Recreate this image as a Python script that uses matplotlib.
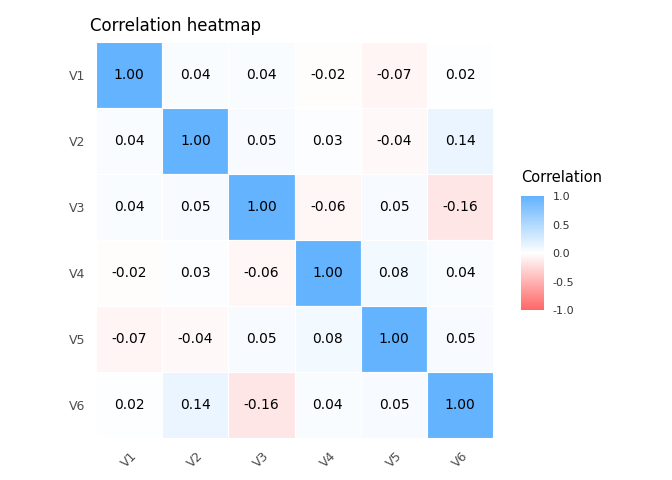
import matplotlib
matplotlib.use("Agg")
import matplotlib.pyplot as plt
import numpy as np
from matplotlib.colors import LinearSegmentedColormap, Normalize

labels = ["V1", "V2", "V3", "V4", "V5", "V6"]
corr = np.array([
    [1.00, 0.04, 0.04, -0.02, -0.07, 0.02],
    [0.04, 1.00, 0.05, 0.03, -0.04, 0.14],
    [0.04, 0.05, 1.00, -0.06, 0.05, -0.16],
    [-0.02, 0.03, -0.06, 1.00, 0.08, 0.04],
    [-0.07, -0.04, 0.05, 0.08, 1.00, 0.05],
    [0.02, 0.14, -0.16, 0.04, 0.05, 1.00],
])

cmap = LinearSegmentedColormap.from_list("corr", ["#FF6666", "#FFFFFF", "#63B3FF"])
norm = Normalize(-1, 1)

fig = plt.figure(figsize=(6.72, 4.8), dpi=100)
ax = fig.add_axes([0.143, 0.0875, 0.591, 0.825])
n = len(labels)
for i in range(n):
    for j in range(n):
        v = corr[i, j]
        ax.add_patch(plt.Rectangle((j, n - 1 - i), 1, 1, facecolor=cmap(norm(v)),
                                   edgecolor="white", linewidth=0.8))
        ax.text(j + 0.5, n - 1 - i + 0.5, f"{v:.2f}", ha="center", va="center",
                fontsize=10, color="black")
ax.set_xlim(0, n)
ax.set_ylim(0, n)
ax.set_xticks(np.arange(n) + 0.5)
ax.set_xticklabels(labels, rotation=45, color="#4D4D4D", fontsize=9)
ax.set_yticks(np.arange(n) + 0.5)
ax.set_yticklabels(labels[::-1], color="#4D4D4D", fontsize=9)
ax.tick_params(length=0, pad=8)
for s in ax.spines.values():
    s.set_visible(False)
fig.text(0.134, 0.965, "Correlation heatmap", fontsize=12, va="top")

cax = fig.add_axes([0.775, 0.354, 0.034, 0.2375])
cb = fig.colorbar(plt.cm.ScalarMappable(norm=norm, cmap=cmap), cax=cax)
cb.set_ticks([-1, -0.5, 0, 0.5, 1])
cb.set_ticklabels(["-1.0", "-0.5", "0.0", "0.5", "1.0"])
cb.outline.set_visible(False)
cax.tick_params(labelsize=8, color="white", length=3, labelcolor="#333333")
fig.text(0.775, 0.615, "Correlation", fontsize=10.5, va="bottom")

fig.savefig("out.png", dpi=100)
